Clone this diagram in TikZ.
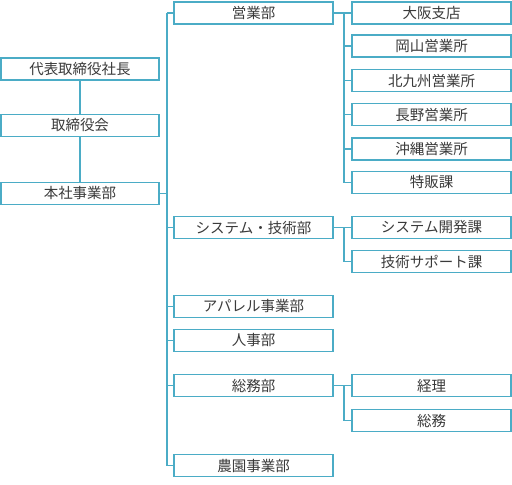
\documentclass[tikz,border=0pt]{standalone}
\usepackage{fontspec}
\newfontfamily\jp{Noto Sans CJK JP}
\definecolor{boxline}{HTML}{4BACC6}
\definecolor{txt}{HTML}{3A3A3A}
\begin{document}
\begin{tikzpicture}[x=1pt,y=-1pt,
  orgbox/.style={draw=boxline, line width=1.8pt, fill=white, minimum height=22pt, inner sep=0pt, font=\jp\fontsize{14.5}{15}\selectfont, text=txt},
  lbox/.style={orgbox, minimum width=158pt},
  mbox/.style={orgbox, minimum width=159pt},
  rbox/.style={orgbox, minimum width=159pt},
  conn/.style={draw=boxline, line width=1.8pt}]
\useasboundingbox (0,0) rectangle (512,485);
% left column
\node[lbox] (pres) at (80,69) {代表取締役社長};
\node[lbox] (board) at (80,125.5) {取締役会};
\node[lbox] (honsha) at (80,193.5) {本社事業部};
% middle column
\node[mbox] (eigyo) at (253.5,13) {営業部};
\node[mbox] (system) at (253.5,227.5) {システム・技術部};
\node[mbox] (apparel) at (253.5,306.5) {アパレル事業部};
\node[mbox] (jinji) at (253.5,340.5) {人事部};
\node[mbox] (somu) at (253.5,385.5) {総務部};
\node[mbox] (noen) at (253.5,465.5) {農園事業部};
% right column
\node[rbox] (osaka) at (431.5,13) {大阪支店};
\node[rbox] (okayama) at (431.5,46) {岡山営業所};
\node[rbox] (kitakyushu) at (431.5,80.5) {北九州営業所};
\node[rbox] (nagano) at (431.5,114.5) {長野営業所};
\node[rbox] (okinawa) at (431.5,149) {沖縄営業所};
\node[rbox] (tokuhan) at (431.5,182.5) {特販課};
\node[rbox] (sysdev) at (431.5,227.5) {システム開発課};
\node[rbox] (support) at (431.5,261.5) {技術サポート課};
\node[rbox] (keiri) at (431.5,385.5) {経理};
\node[rbox] (somu2) at (431.5,420.5) {総務};
% bus coordinates
\coordinate (busL) at (167,0);
\coordinate (busR) at (344,0);
% connectors
\draw[conn] (pres) -- (board);
\draw[conn] (board) -- (honsha);
\draw[conn] (honsha.east) -- (honsha.east -| busL);
\draw[conn] (busL |- eigyo.west) -- (busL |- noen.west);
\foreach \n in {eigyo,system,apparel,jinji,somu,noen}
  \draw[conn] (\n.west) -- (\n.west -| busL);
% eigyo group
\draw[conn] (eigyo.east) -- (eigyo.east -| busR);
\draw[conn] (busR |- osaka.west) -- (busR |- tokuhan.west);
\foreach \n in {osaka,okayama,kitakyushu,nagano,okinawa,tokuhan}
  \draw[conn] (\n.west) -- (\n.west -| busR);
% system group
\draw[conn] (system.east) -- (system.east -| busR);
\draw[conn] (busR |- sysdev.west) -- (busR |- support.west);
\foreach \n in {sysdev,support}
  \draw[conn] (\n.west) -- (\n.west -| busR);
% somu group
\draw[conn] (somu.east) -- (somu.east -| busR);
\draw[conn] (busR |- keiri.west) -- (busR |- somu2.west);
\foreach \n in {keiri,somu2}
  \draw[conn] (\n.west) -- (\n.west -| busR);
\end{tikzpicture}
\end{document}
